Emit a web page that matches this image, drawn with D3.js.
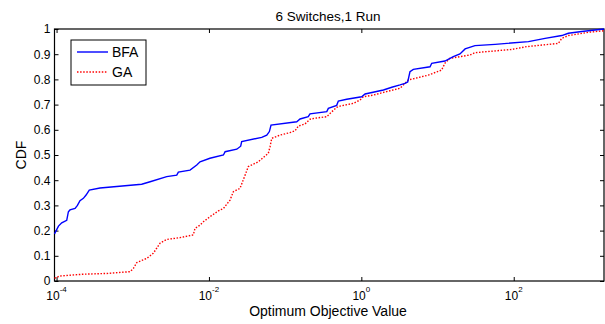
<!DOCTYPE html>
<html><head><meta charset="utf-8">
<script src="https://cdn.jsdelivr.net/npm/d3@7"></script>
<style>
body{margin:0;background:#fff}
text{font-family:"Liberation Sans",Arial,Helvetica,sans-serif;fill:#000}
</style>
</head><body><svg id="c" width="605" height="324"></svg>
<script>
// ---- data ----
const bfaValues = [9.4e-5,1.06e-4,1.17e-4,1.36e-4,1.43e-4,1.50e-4,1.75e-4,1.88e-4,2.03e-4,2.25e-4,2.44e-4,2.69e-4,3.72e-4,1.31e-3,1.69e-3,2.79e-3,3.78e-3,3.97e-3,5.65e-3,6.92e-3,7.64e-3,1.03e-2,1.55e-2,1.63e-2,2.32e-2,2.61e-2,2.69e-2,4.93e-2,5.74e-2,6.21e-2,6.53e-2,0.142,0.157,0.201,0.212,0.352,0.369,0.475,0.499,0.643,1.01,1.12,1.95,2.51,3.22,3.74,4.06,4.35,4.81,7.97,8.39,12.5,16.1,19.7,23.0,31.0,56.9,156,258,427,521,780,1166,1530];
const bfaCdf    = [0.187,0.218,0.231,0.241,0.275,0.282,0.288,0.300,0.319,0.328,0.341,0.361,0.369,0.384,0.394,0.414,0.420,0.432,0.440,0.460,0.473,0.487,0.500,0.513,0.523,0.535,0.553,0.570,0.579,0.593,0.619,0.632,0.643,0.652,0.663,0.672,0.685,0.697,0.714,0.721,0.731,0.742,0.758,0.769,0.778,0.784,0.790,0.831,0.840,0.850,0.864,0.873,0.890,0.901,0.921,0.934,0.939,0.950,0.963,0.974,0.983,0.990,0.996,1.000];
const gaValues  = [9.4e-5,1.11e-4,2.25e-4,4.56e-4,9.22e-4,1.02e-3,1.13e-3,1.53e-3,1.86e-3,2.06e-3,2.28e-3,2.79e-3,4.18e-3,6.24e-3,6.57e-3,7.64e-3,8.45e-3,1.03e-2,1.33e-2,1.55e-2,1.89e-2,2.09e-2,2.56e-2,2.98e-2,3.29e-2,4.45e-2,6.02e-2,6.34e-2,6.67e-2,8.57e-2,0.116,0.135,0.149,0.182,0.212,0.247,0.352,0.388,0.475,0.525,0.785,0.961,1.06,1.44,2.38,3.22,3.74,4.14,5.07,7.57,11.3,12.5,14.6,26.7,31.0,94.2,148,385,427,521,953,1530];
const gaCdf     = [0.011,0.020,0.027,0.030,0.037,0.050,0.073,0.090,0.110,0.130,0.150,0.165,0.172,0.183,0.209,0.222,0.235,0.255,0.278,0.288,0.321,0.354,0.368,0.420,0.454,0.473,0.507,0.533,0.566,0.579,0.589,0.596,0.615,0.623,0.642,0.646,0.652,0.665,0.689,0.694,0.705,0.718,0.731,0.738,0.755,0.765,0.784,0.798,0.804,0.817,0.837,0.864,0.884,0.897,0.906,0.919,0.930,0.943,0.963,0.974,0.987,0.993];
const seriesNames = ["BFA","GA"];
const xTicks = [1e-4,1e-2,1,1e2];
const xTickExps = ["-4","-2","0","2"];
const yTicks = [0,0.1,0.2,0.3,0.4,0.5,0.6,0.7,0.8,0.9,1];
const yTickLabels = ["0","0.1","0.2","0.3","0.4","0.5","0.6","0.7","0.8","0.9","1"];
const titleText = "6 Switches,1 Run";
const xLabelText = "Optimum Objective Value";
const yLabelText = "CDF";

// ---- layout ----
const L=54.5, R=604, T=29, B=281;
const svg = d3.select("#c");
const x = d3.scaleLog().domain([9.4e-5,1530]).range([L,R]);
const y = d3.scaleLinear().domain([0,1]).range([B,T]);

// axes (ticks point inward)
svg.append("g").attr("transform",`translate(0,${B})`)
  .call(d3.axisBottom(x).tickValues(xTicks).tickSizeInner(-4).tickSizeOuter(0).tickFormat(""))
  .call(g=>g.select(".domain").remove());
svg.append("g").attr("transform",`translate(0,${T})`)
  .call(d3.axisTop(x).tickValues(xTicks).tickSizeInner(-4).tickSizeOuter(0).tickFormat(""))
  .call(g=>g.select(".domain").remove());
svg.append("g").attr("transform",`translate(${L},0)`)
  .call(d3.axisLeft(y).tickValues(yTicks).tickSizeInner(-4).tickSizeOuter(0).tickPadding(4)
        .tickFormat((d,i)=>yTickLabels[i]))
  .call(g=>g.select(".domain").remove())
  .call(g=>g.selectAll("text").style("font-size","12px").attr("font-family",null));
svg.append("g").attr("transform",`translate(${R},0)`)
  .call(d3.axisRight(y).tickValues(yTicks).tickSizeInner(-4).tickSizeOuter(0).tickFormat(""))
  .call(g=>g.select(".domain").remove());
svg.selectAll(".tick line").attr("stroke","#000");

// x tick labels with superscripts
const xl = svg.append("g").selectAll("text").data(xTicks).join("text")
  .attr("x",d=>x(d)).attr("y",300).attr("text-anchor","middle").style("font-size","12px");
xl.append("tspan").text("10");
xl.append("tspan").attr("dy",-8).style("font-size","8px").text((d,i)=>xTickExps[i]);

// box
svg.append("rect").attr("x",L).attr("y",T).attr("width",R-L).attr("height",B-T)
  .attr("fill","none").attr("stroke","#000").attr("stroke-width",1.2);

// lines
const line = d3.line().x(d=>x(d[0])).y(d=>y(d[1]));
const bfa = bfaValues.map((v,i)=>[v,bfaCdf[i]]);
const ga = gaValues.map((v,i)=>[v,gaCdf[i]]);
svg.append("path").datum(ga).attr("d",line).attr("fill","none")
  .attr("stroke","#ff0000").attr("stroke-width",1.4).attr("stroke-dasharray","1.5,1.6");
svg.append("path").datum(bfa).attr("d",line).attr("fill","none")
  .attr("stroke","#0000ff").attr("stroke-width",1.4);

// legend
const lg = svg.append("g");
lg.append("rect").attr("x",71).attr("y",40).attr("width",75).attr("height",45)
  .attr("fill","#fff").attr("stroke","#000").attr("stroke-width",1);
const lgColors = ["#0000ff","#ff0000"], lgDash=[null,"1.5,1.6"];
seriesNames.forEach((n,i)=>{
  const yy = 52 + i*20;
  lg.append("line").attr("x1",77).attr("x2",108).attr("y1",yy).attr("y2",yy)
    .attr("stroke",lgColors[i]).attr("stroke-width",1.4).attr("stroke-dasharray",lgDash[i]);
  lg.append("text").attr("x",112).attr("y",yy+5).style("font-size","14px").text(n);
});

// titles
svg.append("text").attr("x",328).attr("y",21).attr("text-anchor","middle")
  .style("font-size","13.5px").text(titleText);
svg.append("text").attr("x",328).attr("y",316).attr("text-anchor","middle")
  .style("font-size","14px").text(xLabelText);
svg.append("text").attr("transform","translate(26,155) rotate(-90)").attr("text-anchor","middle")
  .style("font-size","14px").text(yLabelText);
</script>
</body></html>
